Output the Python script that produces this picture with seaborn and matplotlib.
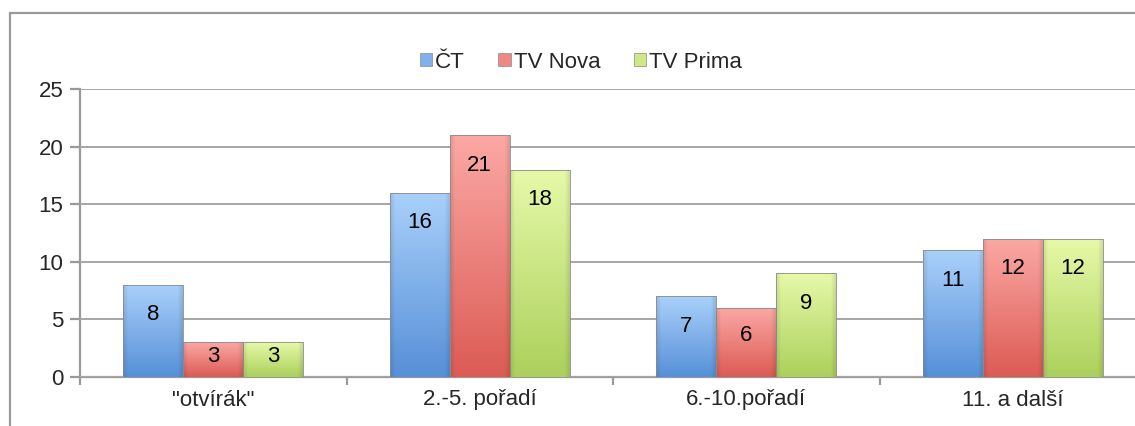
import numpy as np
import pandas as pd
import matplotlib
matplotlib.use("Agg")
import matplotlib.pyplot as plt
import seaborn as sns
from matplotlib.patches import Patch
from matplotlib.lines import Line2D
from matplotlib.colors import to_rgb

categories = ['"otvírák"', "2.-5. pořadí", "6.-10.pořadí", "11. a další"]
series = ["ČT", "TV Nova", "TV Prima"]
ct = [8, 16, 7, 11]
nova = [3, 21, 6, 12]
prima = [3, 18, 9, 12]
yticks = [0, 5, 10, 15, 20, 25]

mid_colors = ["#7fb2ec", "#ee8884", "#cfe784"]
top_colors = ["#a9d0fa", "#fba8a4", "#e6f9a8"]
bot_colors = ["#5790d8", "#dc5b55", "#acd05c"]

df = pd.DataFrame({
    "cat": categories * 3,
    "series": [s for s in series for _ in categories],
    "value": ct + nova + prima,
})

sns.set_theme(style="white")
plt.rcParams["font.family"] = ["Liberation Sans", "DejaVu Sans"]

FS = 16

fig = plt.figure(figsize=(11.35, 4.26), dpi=100)
ax = fig.add_axes([80 / 1135, 1 - 377 / 426, 1066 / 1135, (377 - 89) / 426])

sns.barplot(data=df, x="cat", y="value", hue="series", order=categories,
            hue_order=series, palette=mid_colors, width=0.675, ax=ax,
            legend=False, saturation=1, edgecolor="#8a8a8a", linewidth=0.6)

ax.set_xlim(-0.5, 3.5)
ax.set_ylim(0, 25)

# gradient fills clipped to bars
for i, cont in enumerate(ax.containers):
    top = np.array(to_rgb(top_colors[i]))
    bot = np.array(to_rgb(bot_colors[i]))
    for bar in cont:
        x0, y0 = bar.get_x(), bar.get_y()
        w, h = bar.get_width(), bar.get_height()
        ny, nx = 60, 40
        t = np.linspace(0, 1, ny)[:, None, None]
        img = top * (1 - t) + bot * t
        s = np.linspace(-1, 1, nx)
        edge = 1 - 0.10 * np.clip((np.abs(s) - 0.85) / 0.15, 0, 1)
        img = img * edge[None, :, None]
        img = np.broadcast_to(img, (ny, nx, 3)).copy()
        im = ax.imshow(img, extent=[x0, x0 + w, y0, y0 + h], origin="upper",
                       aspect="auto", zorder=bar.get_zorder() + 0.01,
                       interpolation="bilinear")
        im.set_clip_path(bar)
        bar.set_facecolor("none")
        bar.set_zorder(bar.get_zorder() + 0.02)

    vals = [ct, nova, prima][i]
    for bar, v in zip(cont, vals):
        ypos = max(v - 2.6, v * 0.6)
        ax.text(bar.get_x() + bar.get_width() / 2, ypos, str(v),
                ha="center", va="center", fontsize=FS, color="black", zorder=10)

ax.set_xlim(-0.5, 3.5)
ax.set_ylim(0, 25)

# grid and axes
ax.set_yticks(yticks)
ax.yaxis.grid(True, color="#a6a6a6", linewidth=1.4)
ax.set_axisbelow(True)
for sp in ["top", "right"]:
    ax.spines[sp].set_visible(False)
for sp in ["left", "bottom"]:
    ax.spines[sp].set_color("#9a9a9a")
    ax.spines[sp].set_linewidth(1.6)
    ax.spines[sp].set_zorder(0.5)

ax.set_xticks([-0.5, 0.5, 1.5, 2.5, 3.5])
ax.set_xticklabels([])
ax.set_xticks(range(len(categories)), minor=True)
ax.set_xticklabels(categories, minor=True, fontsize=FS)
ax.tick_params(axis="x", which="major", length=6, width=1.6, color="#9a9a9a",
               direction="out", bottom=True)
ax.tick_params(axis="x", which="minor", length=0, pad=9)
ax.tick_params(axis="y", length=7, width=1.6, color="#9a9a9a", direction="out",
               left=True, labelsize=FS, pad=5)
ax.set_xlabel("")
ax.set_ylabel("")

# legend
handles = [Patch(facecolor=c, edgecolor="#8a8a8a", linewidth=0.5) for c in mid_colors]
fig.legend(handles, series, loc="center", bbox_to_anchor=(581 / 1135, 1 - 62 / 426),
           ncol=3, frameon=False, fontsize=16, handlelength=0.55, handleheight=0.55,
           handletextpad=0.15, columnspacing=1.5)

# chart area border
fig.add_artist(Line2D([10 / 1135, 10 / 1135], [0, 1 - 13 / 426], color="#9a9a9a",
                      linewidth=1.6, transform=fig.transFigure))
fig.add_artist(Line2D([10 / 1135, 1], [1 - 13 / 426, 1 - 13 / 426], color="#9a9a9a",
                      linewidth=1.6, transform=fig.transFigure))

fig.savefig("out.png", dpi=100)
